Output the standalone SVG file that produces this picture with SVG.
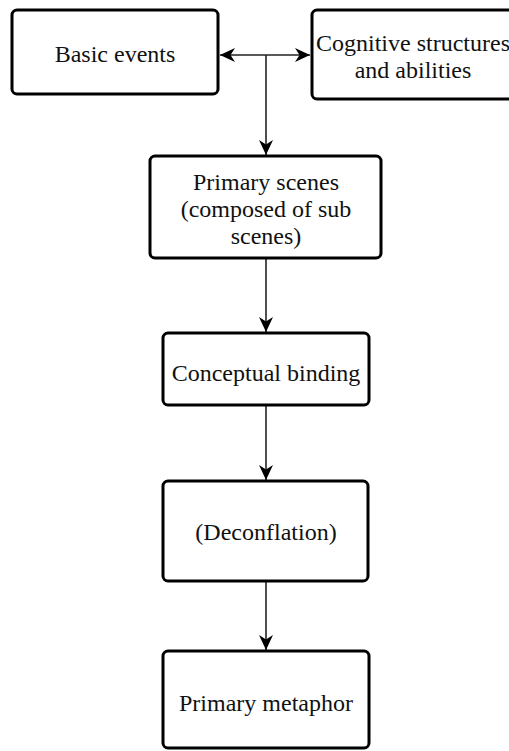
<svg xmlns="http://www.w3.org/2000/svg" width="509" height="751" viewBox="0 0 509 751">
<style>
.box{fill:#fff;stroke:#000;stroke-width:3}
.lbl{font-family:"Liberation Serif","Times New Roman",serif;font-size:24px;fill:#111;text-anchor:middle}
.edge{stroke:#222;stroke-width:1.6;fill:none}
</style>
<defs>
<marker id="arr" viewBox="0 0 15 14" refX="15" refY="7" markerWidth="15" markerHeight="14" markerUnits="userSpaceOnUse" orient="auto-start-reverse">
<path d="M0,0 L15,7 L0,14 L4.5,7 z" fill="#000"/>
</marker>
</defs>
<rect width="509" height="751" fill="#fff"/>
<g id="connectors">
<line class="edge" x1="220" y1="55" x2="310" y2="55" marker-start="url(#arr)" marker-end="url(#arr)"/>
<line class="edge" x1="266" y1="55" x2="266" y2="155" marker-end="url(#arr)"/>
<line class="edge" x1="266" y1="258" x2="266" y2="332" marker-end="url(#arr)"/>
<line class="edge" x1="266" y1="405" x2="266" y2="480" marker-end="url(#arr)"/>
<line class="edge" x1="266" y1="581" x2="266" y2="650" marker-end="url(#arr)"/>
</g>
<g id="basic-events">
<rect class="box" x="12" y="10" width="206" height="84" rx="5"/>
<text class="lbl" x="115" y="62">Basic events</text>
</g>
<g id="cognitive">
<rect class="box" x="312" y="10" width="202" height="89" rx="5"/>
<text class="lbl" x="413" y="51">Cognitive structures</text>
<text class="lbl" x="413" y="78">and abilities</text>
</g>
<g id="primary-scenes">
<rect class="box" x="150" y="156" width="231" height="102" rx="5"/>
<text class="lbl" x="266" y="190">Primary scenes</text>
<text class="lbl" x="266" y="217">(composed of sub</text>
<text class="lbl" x="266" y="244">scenes)</text>
</g>
<g id="conceptual-binding">
<rect class="box" x="163" y="333" width="206" height="72" rx="5"/>
<text class="lbl" x="266" y="381">Conceptual binding</text>
</g>
<g id="deconflation">
<rect class="box" x="163" y="481" width="205" height="100" rx="5"/>
<text class="lbl" x="266" y="540">(Deconflation)</text>
</g>
<g id="primary-metaphor">
<rect class="box" x="163" y="651" width="206" height="97" rx="5"/>
<text class="lbl" x="266" y="711">Primary metaphor</text>
</g>
</svg>
